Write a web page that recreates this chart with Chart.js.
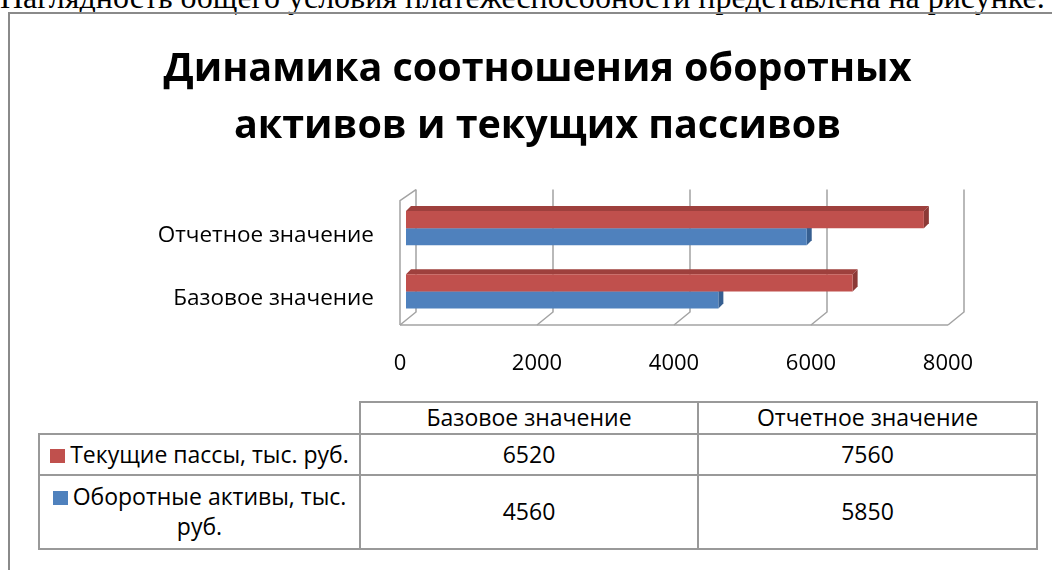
<!DOCTYPE html>
<html>
<head>
<meta charset="utf-8">
<script src="https://cdn.jsdelivr.net/npm/chart.js@4/dist/chart.umd.min.js"></script>
<style>
    html, body { margin: 0; padding: 0; background: #fff; overflow: hidden; }
    body { width: 1052px; height: 570px; position: relative; }
    #lead {
        position: absolute; left: 0; top: -19px; white-space: nowrap;
        font: 32px/32px "Liberation Serif", "Times New Roman", serif; color: #000;
    }
    #frame {
        position: absolute; left: 8px; top: 12px; width: 2000px; height: 2000px;
        border-left: 2px solid #8a8a8a; border-top: 2px solid #8a8a8a;
    }
    #chart-box { position: absolute; left: 121px; top: 0; width: 931px; height: 400px; }
    #data-table {
        position: absolute; left: 38px; top: 401px; border-collapse: collapse;
        font: 23px "Open Sans", sans-serif; color: #000; table-layout: fixed;
    }
    #data-table td { border: 2px solid #999; text-align: center; padding: 0 4px; line-height: 1.3; }
    #data-table td.blank { border-top: none; border-left: none; }
    .swatch { display: inline-block; width: 15px; height: 14px; margin-right: 5px; }
</style>
</head>
<body>
<div id="lead">Наглядность общего условия платежеспособности представлена на рисунке.</div>
<div id="frame"></div>
<div id="chart-box"><canvas id="chart"></canvas></div>
<table id="data-table"></table>
<script>
    // categories and series
    const categories = ['Базовое значение', 'Отчетное значение'];
    const seriesNames = ['Текущие пассы, тыс. руб.', 'Оборотные активы, тыс. руб.'];
    const liabilities = [6520, 7560];
    const currentAssets = [4560, 5850];
    const xTicks = [0, 2000, 4000, 6000, 8000];

    const colors = ['#C0504D', '#4F81BD'];
    const sideColors = ['#8C3936', '#365F91'];
    const topColors = ['#9E403D', '#3F6CA3'];
    const depth = 5;

    // fake 3D walls, floor and bar faces drawn before the bars themselves
    const walls3d = {
        id: 'walls3d',
        beforeDatasetsDraw(chart) {
            const ctx = chart.ctx;
            const a = chart.chartArea;
            const x = chart.scales.x;
            const backTop = a.top - 7, backBot = a.bottom - 11, front = a.bottom + 2;

            ctx.save();
            ctx.strokeStyle = '#a3a3a3';
            ctx.lineWidth = 1.5;
            xTicks.forEach((v) => {
                const px = x.getPixelForValue(v);
                ctx.beginPath();
                ctx.moveTo(px + 10, backTop);
                ctx.lineTo(px + 10, backBot);
                ctx.lineTo(px - 6, front);
                ctx.stroke();
            });
            const x0 = x.getPixelForValue(xTicks[0]);
            const x1 = x.getPixelForValue(xTicks[xTicks.length - 1]);
            ctx.beginPath();
            ctx.moveTo(x0 - 6, front);
            ctx.lineTo(x1 - 6, front);
            ctx.stroke();
            ctx.beginPath();
            ctx.moveTo(x0 - 6, front);
            ctx.lineTo(x0 - 6, a.top + 4);
            ctx.lineTo(x0 + 10, backTop);
            ctx.stroke();

            chart.data.datasets.forEach((ds, i) => {
                chart.getDatasetMeta(i).data.forEach((bar) => {
                    const p = bar.getProps(['x', 'y', 'base', 'height'], true);
                    const top = p.y - p.height / 2, bottom = p.y + p.height / 2;
                    ctx.fillStyle = topColors[i];
                    ctx.beginPath();
                    ctx.moveTo(p.base, top);
                    ctx.lineTo(p.x, top);
                    ctx.lineTo(p.x + depth, top - depth);
                    ctx.lineTo(p.base + depth, top - depth);
                    ctx.closePath();
                    ctx.fill();
                    ctx.fillStyle = sideColors[i];
                    ctx.beginPath();
                    ctx.moveTo(p.x, top);
                    ctx.lineTo(p.x + depth, top - depth);
                    ctx.lineTo(p.x + depth, bottom - depth);
                    ctx.lineTo(p.x, bottom);
                    ctx.closePath();
                    ctx.fill();
                });
            });
            ctx.restore();
        }
    };

    Chart.defaults.font.family = "'Open Sans', sans-serif";
    Chart.defaults.color = '#000';

    new Chart(document.getElementById('chart'), {
        type: 'bar',
        data: {
            labels: categories,
            datasets: [{
                label: seriesNames[0],
                data: liabilities,
                backgroundColor: colors[0]
            }, {
                label: seriesNames[1],
                data: currentAssets,
                backgroundColor: colors[1]
            }]
        },
        options: {
            indexAxis: 'y',
            responsive: true,
            maintainAspectRatio: false,
            animation: false,
            categoryPercentage: 0.54,
            barPercentage: 1,
            layout: { padding: { left: 0, right: 98, top: 0, bottom: 0 } },
            plugins: {
                legend: { display: false },
                tooltip: { enabled: false },
                title: {
                    display: true,
                    text: ['Динамика соотношения оборотных', 'активов и текущих пассивов'],
                    font: { size: 39.5, weight: 'bold', lineHeight: 1.45 },
                    color: '#000',
                    padding: { top: 41, bottom: 41 }
                }
            },
            scales: {
                x: {
                    min: 0,
                    max: 8000,
                    grid: { display: false },
                    border: { display: false },
                    ticks: {
                        stepSize: 2000, padding: 20, labelOffset: -6, font: { size: 22 }, maxRotation: 0,
                        callback: (v) => String(v)
                    },
                    afterFit: (scale) => { scale.height = 77; }
                },
                y: {
                    reverse: true,
                    grid: { display: false },
                    border: { display: false },
                    ticks: { padding: 24, labelOffset: 7, font: { size: 22.5 } },
                    afterFit: (scale) => { scale.width = 285; }
                }
            }
        },
        plugins: [walls3d]
    });

    // data table under the chart, built from the same arrays
    const table = document.getElementById('data-table');
    const colW = [321, 338, 339];
    const rowH = [32, 41, 74];
    let html = '<colgroup>' + colW.map((w) => `<col style="width:${w}px">`).join('') + '</colgroup>';
    html += `<tr style="height:${rowH[0]}px"><td class="blank"></td>` + categories.map((c) => `<td>${c}</td>`).join('') + '</tr>';
    [liabilities, currentAssets].forEach((vals, i) => {
        html += `<tr style="height:${rowH[i + 1]}px"><td><span class="swatch" style="background:${colors[i]}"></span>${seriesNames[i]}</td>`;
        html += vals.map((v) => `<td>${v}</td>`).join('') + '</tr>';
    });
    table.innerHTML = html;
</script>
</body>
</html>
